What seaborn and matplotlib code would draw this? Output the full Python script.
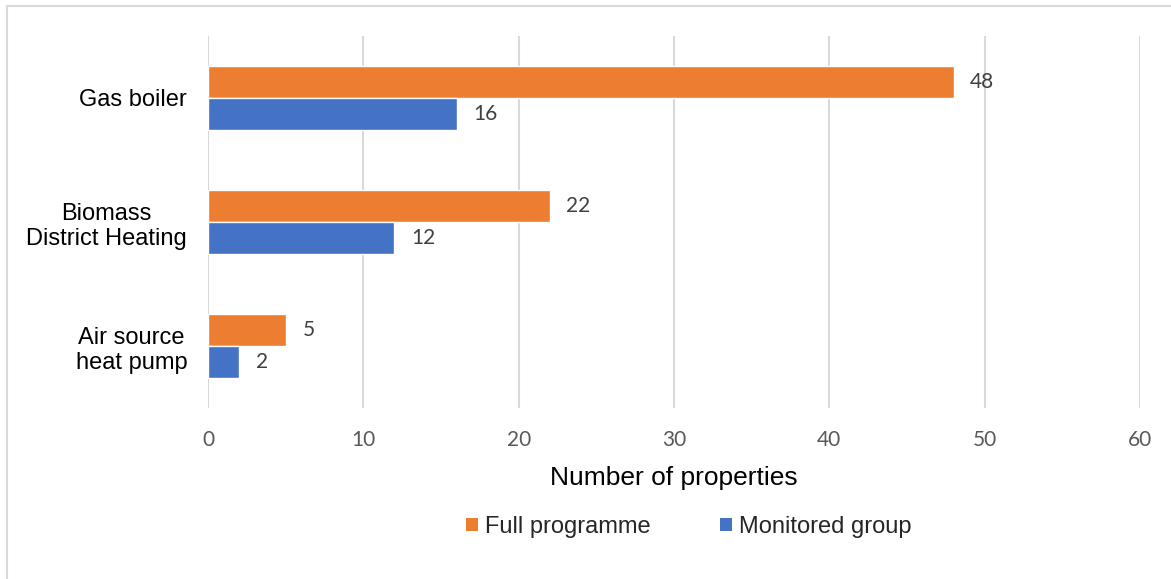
import matplotlib
matplotlib.use("Agg")
import matplotlib.pyplot as plt
from matplotlib.patches import Rectangle, Patch
import pandas as pd
import seaborn as sns

categories = ["Gas boiler", "Biomass\nDistrict Heating", "Air source\nheat pump"]
full_programme = [48, 22, 5]
monitored_group = [16, 12, 2]
series_names = ["Full programme", "Monitored group"]
x_ticks = [0, 10, 20, 30, 40, 50, 60]

df = pd.DataFrame({
    "category": categories * 2,
    "value": full_programme + monitored_group,
    "series": [series_names[0]] * 3 + [series_names[1]] * 3,
})

sns.set_theme(style="white")
plt.rcParams["font.family"] = ["Liberation Sans", "DejaVu Sans"]

colors = {"Full programme": "#ED7D31", "Monitored group": "#4472C4"}

W, H = 1171, 579
fig = plt.figure(figsize=(W / 100, H / 100), dpi=100)
ax = fig.add_axes([208 / W, 1 - 408 / H, (1140 - 208) / W, (408 - 36) / H])

sns.barplot(data=df, x="value", y="category", hue="series", orient="h",
            palette=colors, width=0.516, gap=0, saturation=1, ax=ax,
            legend=False, order=categories, hue_order=series_names)

ax.set_xlim(0, 60)
ax.set_ylim(2.5, -0.5)
ax.set_xticks(x_ticks)
ax.set_xticklabels([str(t) for t in x_ticks], fontfamily="Lato",
                   fontsize=15, color="#595959")
ax.tick_params(axis="x", length=0, pad=16)
ax.tick_params(axis="y", length=0, pad=15, labelsize=17, labelcolor="black")
for lbl in ax.get_yticklabels():
    lbl.set_multialignment("center")

ax.grid(axis="x", color="#d9d9d9", linewidth=1.5)
ax.set_axisbelow(True)
for s in ax.spines.values():
    s.set_visible(False)

ax.set_ylabel("")
ax.set_xlabel("Number of properties", fontsize=19, color="black", labelpad=11)

# value labels at the end of each bar
for cont in ax.containers:
    ax.bar_label(cont, labels=[f"{v:.0f}" for v in cont.datavalues],
                 padding=12, fontfamily="Lato", fontsize=15, color="#404040")

handles = [Patch(facecolor=colors[n], edgecolor="none") for n in series_names]
fig.legend(handles, series_names, loc="center", bbox_to_anchor=(689 / W, 1 - 527 / H),
           ncol=2, frameon=False, fontsize=17, handlelength=0.5, handleheight=0.5,
           handletextpad=0.3, columnspacing=2.95)

fig.patches.append(Rectangle((7 / W, -0.05), 1.1, 1 - 6 / H + 0.05,
                             transform=fig.transFigure, fill=False,
                             edgecolor="#d9d9d9", linewidth=1.5))

fig.savefig("out.png", dpi=100)
